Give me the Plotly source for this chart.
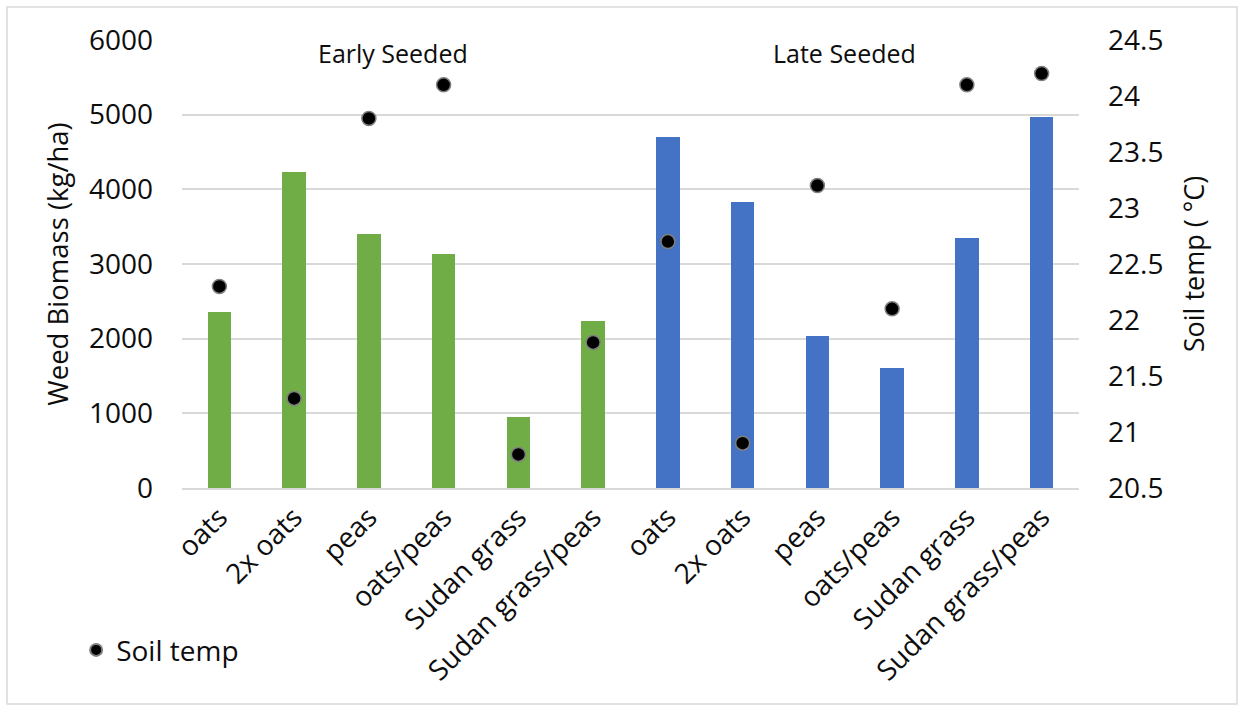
import plotly.graph_objects as go

# Cover-crop treatments (same list for both seeding dates)
treatments = ["oats", "2x oats", "peas", "oats/peas", "Sudan grass", "Sudan grass/peas"]

# Weed biomass (kg/ha)
early_biomass = [2360, 4230, 3400, 3130, 950, 2240]
late_biomass = [4700, 3830, 2040, 1610, 3350, 4970]

# Soil temperature (°C)
early_temp = [22.3, 21.3, 23.8, 24.1, 20.8, 21.8]
late_temp = [22.7, 20.9, 23.2, 22.1, 24.1, 24.2]

group_labels = ["Early Seeded", "Late Seeded"]

FONT = "Open Sans"
TXT = "#0d0d0d"

n = len(treatments)
x_early = list(range(n))
x_late = list(range(n, 2 * n))
tick_text = treatments + treatments

fig = go.Figure()

fig.add_trace(go.Bar(
    x=x_early, y=early_biomass, width=0.317,
    marker=dict(color="#70AD47", line=dict(width=0)),
    showlegend=False, name="Early Seeded",
))
fig.add_trace(go.Bar(
    x=x_late, y=late_biomass, width=0.317,
    marker=dict(color="#4472C4", line=dict(width=0)),
    showlegend=False, name="Late Seeded",
))
fig.add_trace(go.Scatter(
    x=x_early + x_late, y=early_temp + late_temp, yaxis="y2",
    mode="markers", name="Soil temp",
    marker=dict(color="black", size=14, line=dict(color="#7f7f7f", width=1.5)),
))

# Seeding-date group labels
fig.add_annotation(x=2.32, y=5820, xref="x", yref="y", text=group_labels[0],
                   showarrow=False, font=dict(family=FONT, size=25, color=TXT))
fig.add_annotation(x=8.36, y=5820, xref="x", yref="y", text=group_labels[1],
                   showarrow=False, font=dict(family=FONT, size=25, color=TXT))

# Chart-area border
fig.add_shape(type="rect", xref="paper", yref="paper",
              x0=-0.1951, x1=1.1761, y0=-0.482, y1=1.0737,
              line=dict(color="#d9d9d9", width=1.5), fillcolor="rgba(0,0,0,0)")

fig.update_layout(
    width=1244, height=711,
    margin=dict(l=182, r=165, t=40, b=223),
    paper_bgcolor="white", plot_bgcolor="white",
    font=dict(family=FONT, color=TXT),
    bargap=0,
    xaxis=dict(
        range=[-0.5, 2 * n - 0.5],
        tickmode="array", tickvals=x_early + x_late, ticktext=tick_text,
        tickangle=-45, tickfont=dict(size=28, color=TXT),
        showgrid=False, zeroline=False,
        showline=True, linecolor="#d9d9d9", linewidth=1.5,
        ticks="", ticklabelstandoff=0,
    ),
    yaxis=dict(
        range=[0, 6000], tickvals=[0, 1000, 2000, 3000, 4000, 5000, 6000],
        tickfont=dict(size=28, color=TXT),
        showgrid=True, gridcolor="#d9d9d9", gridwidth=1.5,
        zeroline=False, ticks="", ticklabelstandoff=28,
        title=dict(text="Weed Biomass (kg/ha)", font=dict(size=27.5, color=TXT), standoff=12),
    ),
    yaxis2=dict(
        range=[20.5, 24.5], tickvals=[20.5, 21, 21.5, 22, 22.5, 23, 23.5, 24, 24.5],
        ticktext=["20.5", "21", "21.5", "22", "22.5", "23", "23.5", "24", "24.5"],
        overlaying="y", side="right",
        tickfont=dict(size=28, color=TXT),
        showgrid=False, zeroline=False, ticks="", ticklabelstandoff=28,
        title=dict(text="Soil temp ( °C)", font=dict(size=27, color=TXT), standoff=22),
    ),
    legend=dict(
        x=-0.118, y=-0.362, xanchor="left", yanchor="middle",
        font=dict(size=28, color=TXT), bgcolor="rgba(0,0,0,0)",
        itemsizing="constant",
    ),
)

fig.write_html("out.html")
